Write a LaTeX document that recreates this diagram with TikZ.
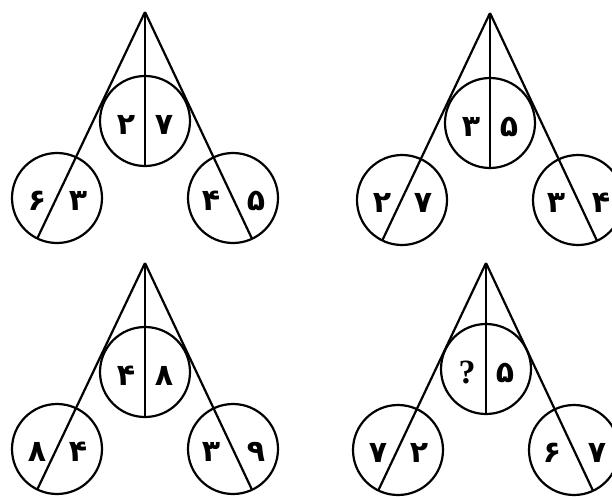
\documentclass[tikz,border=0pt]{standalone}
\usepackage{fontspec}
\newfontfamily\persianfont[Script=Arabic]{DejaVu Sans}
\newfontfamily\qfont{Liberation Serif}
\TeXXeTstate=1
\usepackage{tikz}
\usetikzlibrary{calc}
\tikzset{
  ring/.style={circle,draw=black,line width=2.2pt,minimum size=90pt,inner sep=0pt,outer sep=0pt},
  bar/.style={line width=2.2pt,black},
  dig/.style={inner sep=0pt,font=\persianfont\bfseries\fontsize{30}{32}\selectfont},
  qmark/.style={inner sep=0pt,font=\qfont\bfseries\fontsize{34}{36}\selectfont}
}
\newcommand{\fa}[1]{\beginR #1\endR}

\begin{document}
\begin{tikzpicture}[x=1pt,y=-1pt]
  \useasboundingbox (0,0) rectangle (612,497);
  \clip (0,0) rectangle (612,497);

  % top left
  \coordinate (a1) at (145,12);
  \node[ring] (t1) at (145,121) {};
  \node[ring] (l1) at (57,198) {};
  \node[ring] (r1) at (233,198) {};
  \draw[bar] (a1) -- (t1.south);
  \draw[bar] (a1) -- (l1.244.6);
  \draw[bar] (a1) -- (r1.295.4);
  \node[dig] (t1a) at ([shift={(-19,4)}]t1.center) {\fa{۲}};
  \node[dig] (t1b) at ([shift={(19,4)}]t1.center) {\fa{۷}};
  \node[dig] (l1a) at ([shift={(-20,3)}]l1.center) {\fa{۶}};
  \node[dig] (l1b) at ([shift={(21,3)}]l1.center) {\fa{۳}};
  \node[dig] (r1a) at ([shift={(-22,3)}]r1.center) {\fa{۴}};
  \node[dig] (r1b) at ([shift={(23,3)}]r1.center) {\fa{۵}};

  % top right
  \coordinate (a2) at (490,13);
  \node[ring] (t2) at (490,123) {};
  \node[ring] (l2) at (402,200) {};
  \node[ring] (r2) at (578,200) {};
  \draw[bar] (a2) -- (t2.south);
  \draw[bar] (a2) -- (l2.244.6);
  \draw[bar] (a2) -- (r2.295.4);
  \node[dig] (t2a) at ([shift={(-19,4)}]t2.center) {\fa{۳}};
  \node[dig] (t2b) at ([shift={(19,4)}]t2.center) {\fa{۵}};
  \node[dig] (l2a) at ([shift={(-20,3)}]l2.center) {\fa{۲}};
  \node[dig] (l2b) at ([shift={(21,3)}]l2.center) {\fa{۷}};
  \node[dig] (r2a) at ([shift={(-22,3)}]r2.center) {\fa{۳}};
  \node[dig] (r2b) at ([shift={(23,3)}]r2.center) {\fa{۴}};

  % bottom left
  \coordinate (a3) at (145,263);
  \node[ring] (t3) at (145,372) {};
  \node[ring] (l3) at (57,449) {};
  \node[ring] (r3) at (233,449) {};
  \draw[bar] (a3) -- (t3.south);
  \draw[bar] (a3) -- (l3.244.6);
  \draw[bar] (a3) -- (r3.295.4);
  \node[dig] (t3a) at ([shift={(-19,4)}]t3.center) {\fa{۴}};
  \node[dig] (t3b) at ([shift={(19,4)}]t3.center) {\fa{۸}};
  \node[dig] (l3a) at ([shift={(-20,3)}]l3.center) {\fa{۸}};
  \node[dig] (l3b) at ([shift={(21,3)}]l3.center) {\fa{۴}};
  \node[dig] (r3a) at ([shift={(-22,3)}]r3.center) {\fa{۳}};
  \node[dig] (r3b) at ([shift={(23,3)}]r3.center) {\fa{۹}};

  % bottom right
  \coordinate (a4) at (486,263);
  \node[ring] (t4) at (486,369) {};
  \node[ring] (l4) at (398,450) {};
  \node[ring] (r4) at (574,450) {};
  \draw[bar] (a4) -- (t4.south);
  \draw[bar] (a4) -- (l4.244.6);
  \draw[bar] (a4) -- (r4.295.4);
  \node[qmark] (t4a) at ([shift={(-19,3)}]t4.center) {?};
  \node[dig] (t4b) at ([shift={(19,4)}]t4.center) {\fa{۵}};
  \node[dig] (l4a) at ([shift={(-20,3)}]l4.center) {\fa{۷}};
  \node[dig] (l4b) at ([shift={(21,3)}]l4.center) {\fa{۲}};
  \node[dig] (r4a) at ([shift={(-22,3)}]r4.center) {\fa{۶}};
  \node[dig] (r4b) at ([shift={(23,3)}]r4.center) {\fa{۷}};
\end{tikzpicture}
\end{document}
